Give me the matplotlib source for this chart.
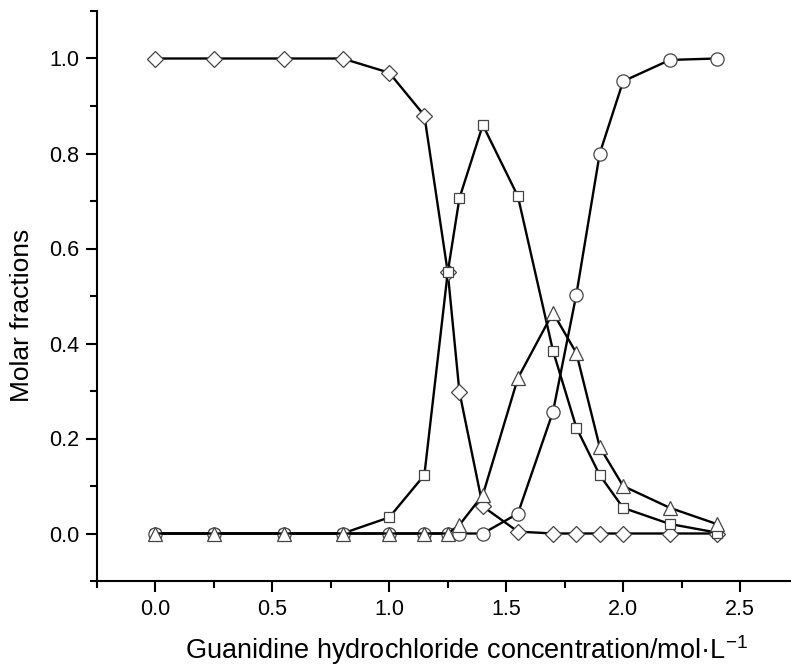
import matplotlib
matplotlib.use('Agg')
import matplotlib.pyplot as plt
from matplotlib.ticker import MultipleLocator

plt.rcParams['font.family'] = ['Liberation Sans', 'DejaVu Sans']
plt.rcParams['mathtext.fontset'] = 'custom'
plt.rcParams['mathtext.rm'] = 'Liberation Sans'

# concentracoes (mol/L)
conc = [0.0, 0.25, 0.55, 0.8, 1.0, 1.15, 1.25, 1.3, 1.4, 1.55, 1.7, 1.8, 1.9, 2.0, 2.2, 2.4]

# fracoes molares de cada especie
nativo = [1.0, 1.0, 1.0, 1.0, 0.97, 0.88, 0.55, 0.298, 0.057, 0.004, 0.0, 0.0, 0.0, 0.0, 0.0, 0.0]
interm1 = [0.0, 0.0, 0.0, 0.0, 0.034, 0.123, 0.55, 0.706, 0.86, 0.71, 0.385, 0.223, 0.123, 0.054, 0.02, 0.002]
desnat = [0.0, 0.0, 0.0, 0.0, 0.0, 0.0, 0.0, 0.0, 0.0, 0.042, 0.256, 0.503, 0.80, 0.952, 0.997, 1.0]
interm2 = [0.0, 0.0, 0.0, 0.0, 0.0, 0.0, 0.0, 0.018, 0.081, 0.327, 0.465, 0.38, 0.182, 0.10, 0.054, 0.02]

fig = plt.figure(figsize=(7.91, 6.67), dpi=100)
ax = fig.add_axes([97/791, 86/667, 694/791, 570/667])

estilo = dict(color='black', lw=1.7, mfc='white', mec='#444444', mew=0.9)
ax.plot(conc, nativo, marker='D', ms=8.5, **estilo)
ax.plot(conc, interm1, marker='s', ms=7.5, **estilo)
ax.plot(conc, desnat, marker='o', ms=9.5, **estilo)
ax.plot(conc, interm2, marker='^', ms=10, **estilo)

ax.set_xlim(-0.25, 2.718)
ax.set_ylim(-0.1, 1.1)
ax.xaxis.set_major_locator(MultipleLocator(0.5))
ax.xaxis.set_minor_locator(MultipleLocator(0.25))
ax.yaxis.set_major_locator(MultipleLocator(0.2))
ax.yaxis.set_minor_locator(MultipleLocator(0.1))

for s in ['top', 'right']:
    ax.spines[s].set_visible(False)
for s in ['left', 'bottom']:
    ax.spines[s].set_linewidth(1.5)

ax.tick_params(which='major', direction='out', length=8, width=1.5, labelsize=15.5, pad=5)
ax.tick_params(which='minor', direction='out', length=5, width=1.5)

fig.text(22/791, 1 - 315/667, 'Molar fractions', rotation=90, ha='center', va='center', fontsize=19)
fig.text(466/791, 8/667, r'Guanidine hydrochloride concentration/mol·L$^{-1}$',
         ha='center', va='baseline', fontsize=19.5)

plt.savefig('out.png', dpi=100)
